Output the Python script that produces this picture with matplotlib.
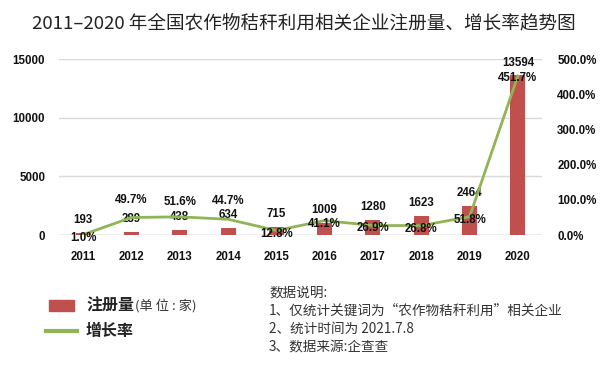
import matplotlib.pyplot as plt
from matplotlib.patches import Rectangle
from matplotlib.lines import Line2D

plt.rcParams['font.family'] = ['Liberation Sans', 'Noto Sans CJK SC']

# ----------------------------
# Daten
# ----------------------------
years = ['2011', '2012', '2013', '2014', '2015', '2016', '2017', '2018', '2019', '2020']
registrations = [193, 289, 438, 634, 715, 1009, 1280, 1623, 2464, 13594]
growth = [1.0, 49.7, 51.6, 44.7, 12.8, 41.1, 26.9, 26.8, 51.8, 451.7]

# Label-Versatz in Pixeln (wie in Excel platziert)
rate_offsets_px = [-3, 18, 15, 18, -3.5, -3.5, -2.5, -3.5, -3, -2]
BAR_LABEL_PX = 12.7

BAR_COLOR = '#c0504d'
LINE_COLOR = '#8fb556'
PX = 72 / 100  # Pixel -> Punkte

fig = plt.figure(figsize=(6.1, 3.68), dpi=100)
ax = fig.add_axes([59 / 610, 1 - 235 / 368, 483 / 610, 176 / 368])
ax2 = ax.twinx()

x = list(range(len(years)))
ax.bar(x, registrations, width=0.31, color=BAR_COLOR, zorder=2)
ax2.plot(x, growth, color=LINE_COLOR, linewidth=2, zorder=3)

ax.set_xlim(-0.5, len(years) - 0.5)
ax.set_ylim(0, 15000)
ax2.set_ylim(0, 500)
ax.set_yticks([0, 5000, 10000, 15000])
ax2.set_yticks([0, 100, 200, 300, 400, 500])
ax2.set_yticklabels([f'{v:.1f}%' for v in [0, 100, 200, 300, 400, 500]])
ax.set_xticks(x)
ax.set_xticklabels(years)

for a in (ax, ax2):
    for s in a.spines.values():
        s.set_visible(False)
    a.tick_params(length=0, labelsize=8.3, colors='#111111')
    for lab in a.get_yticklabels() + a.get_xticklabels():
        lab.set_fontweight('bold')
ax.tick_params(axis='x', pad=11.5)
ax.tick_params(axis='y', pad=10)
ax2.tick_params(axis='y', pad=11)

ax.yaxis.grid(True, color='#d9d9d9', linewidth=1)
ax.set_axisbelow(True)
ax.axhline(0, color='#bfbfbf', linewidth=1, zorder=1)

for i, v in enumerate(registrations):
    ax.annotate(str(v), (i, v), xytext=(0, BAR_LABEL_PX * PX), textcoords='offset points',
                ha='center', va='center', fontsize=8.3, fontweight='bold',
                color='#111111', zorder=5)
for i, g in enumerate(growth):
    ax2.annotate(f'{g:.1f}%', (i, g), xytext=(0, rate_offsets_px[i] * PX), textcoords='offset points',
                 ha='center', va='center', fontsize=8.3, fontweight='bold',
                 color='#111111', zorder=5)

# Titel
fig.text(304 / 610, 1 - 23 / 368, '2011–2020 年全国农作物秸秆利用相关企业注册量、增长率趋势图',
         ha='center', va='center', fontsize=13.4, color='#222222',
         family=['Noto Sans CJK SC', 'DejaVu Sans'])

# Legende
fig.patches.append(Rectangle((49 / 610, 1 - 311 / 368), 25 / 610, 11 / 368,
                             transform=fig.transFigure, color=BAR_COLOR))
fig.lines.append(Line2D([46 / 610, 77 / 610], [1 - 331 / 368, 1 - 331 / 368],
                        transform=fig.transFigure, color=LINE_COLOR, linewidth=3))
fig.text(86 / 610, 1 - 306 / 368, '注册量', ha='left', va='center', fontsize=11.5,
         color='#222222', family=['Noto Sans CJK SC'], fontweight='bold')
fig.text(135 / 610, 1 - 306 / 368, '(单 位 : 家)', ha='left', va='center', fontsize=9.5,
         color='#333333', family=['Noto Sans CJK SC'], fontweight='light')
fig.text(86 / 610, 1 - 331 / 368, '增长率', ha='left', va='center', fontsize=11.5,
         color='#222222', family=['Noto Sans CJK SC'], fontweight='bold')

# Datenhinweis
notes = ['数据说明:', '1、仅统计关键词为“农作物秸秆利用”相关企业', '2、统计时间为 2021.7.8', '3、数据来源:企查查']
note_y = [292, 311, 329, 347]
for line, yy in zip(notes, note_y):
    fig.text(269 / 610, 1 - yy / 368, line, ha='left', va='center', fontsize=9.8,
             color='#333333', family=['Noto Sans CJK SC', 'DejaVu Sans'], fontweight='light')

fig.savefig('out.png', dpi=100)
